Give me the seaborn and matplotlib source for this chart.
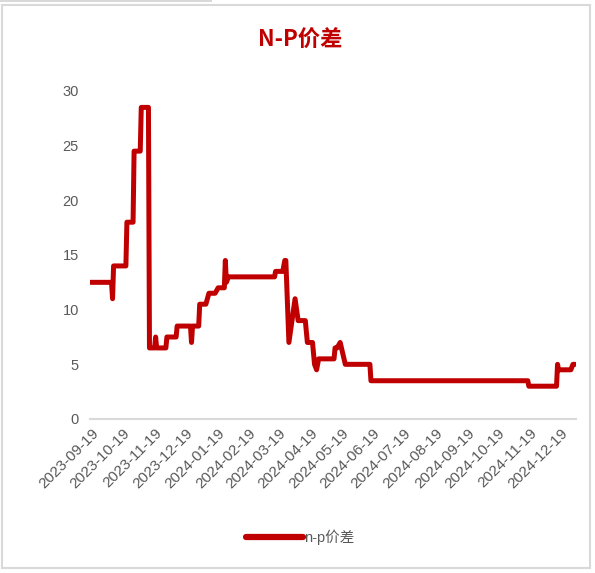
import matplotlib
matplotlib.use("Agg")
import matplotlib.pyplot as plt
import matplotlib.dates as mdates
from matplotlib.patches import Rectangle
import pandas as pd
import seaborn as sns

# breakpoints of the n-p spread (date, value)
dates = [
    "2023-09-17", "2023-10-08", "2023-10-09", "2023-10-10", "2023-10-22",
    "2023-10-23", "2023-10-29", "2023-10-30", "2023-11-05", "2023-11-06",
    "2023-11-13", "2023-11-14", "2023-11-19", "2023-11-20", "2023-11-21",
    "2023-11-30", "2023-12-01", "2023-12-10", "2023-12-11", "2023-12-24",
    "2023-12-25", "2023-12-26", "2024-01-01", "2024-01-02", "2024-01-08",
    "2024-01-11", "2024-01-17", "2024-01-20", "2024-01-26", "2024-01-27",
    "2024-01-28", "2024-01-30", "2024-03-15", "2024-03-16", "2024-03-23",
    "2024-03-25", "2024-03-26", "2024-03-29", "2024-04-04", "2024-04-07",
    "2024-04-14", "2024-04-16", "2024-04-21", "2024-04-23", "2024-04-25",
    "2024-04-27", "2024-05-12", "2024-05-13", "2024-05-15", "2024-05-18",
    "2024-05-23", "2024-06-16", "2024-06-17", "2024-11-17", "2024-11-18",
    "2024-12-15", "2024-12-16", "2024-12-17", "2024-12-29", "2024-12-31",
    "2025-01-02",
]
spread = [
    12.5, 12.5, 11, 14, 14,
    18, 18, 24.5, 24.5, 28.5,
    28.5, 6.5, 6.5, 7.5, 6.5,
    6.5, 7.5, 7.5, 8.5, 8.5,
    7, 8.5, 8.5, 10.5, 10.5,
    11.5, 11.5, 12, 12, 14.5,
    12.5, 13, 13, 13.5, 13.5,
    14.5, 14.5, 7, 11, 9,
    9, 7, 7, 5, 4.5,
    5.5, 5.5, 6.5, 6.5, 7,
    5, 5, 3.5, 3.5, 3,
    3, 5, 4.5, 4.5, 5,
    5,
]
y_ticks = [0, 5, 10, 15, 20, 25, 30]
x_start, x_end = "2023-09-17", "2025-01-03"

title = "N-P价差"
series_name = "n-p价差"

RED = "#C00000"
GRAY = "#595959"

sns.set_style("white")
plt.rcParams["font.family"] = ["Liberation Sans", "Noto Sans CJK SC", "DejaVu Sans"]

df = pd.DataFrame({"date": pd.to_datetime(dates), "value": spread})

fig = plt.figure(figsize=(5.95, 5.73), dpi=100)
ax = fig.add_axes([90 / 595, 1 - 419 / 573, 486 / 595, 328 / 573])

sns.lineplot(data=df, x="date", y="value", ax=ax, color=RED, linewidth=3.6,
             label=series_name, legend=False)

ax.set_xlim(pd.Timestamp(x_start), pd.Timestamp(x_end))
ax.set_ylim(0, 30)
ax.set_yticks(y_ticks)
ax.xaxis.set_major_locator(mdates.MonthLocator(bymonthday=19))
ax.xaxis.set_major_formatter(mdates.DateFormatter("%Y-%m-%d"))
ax.set_xlabel("")
ax.set_ylabel("")

for s in ["top", "right", "left"]:
    ax.spines[s].set_visible(False)
ax.spines["bottom"].set_color("#D9D9D9")
ax.spines["bottom"].set_linewidth(1.5)
ax.tick_params(axis="y", length=0, colors=GRAY, labelsize=10.5, pad=8)
ax.tick_params(axis="x", length=0, colors=GRAY, labelsize=11, pad=5)
plt.setp(ax.get_xticklabels(), rotation=45, ha="right", rotation_mode="anchor")

fig.text(300 / 595, 1 - 40 / 573, title, ha="center", va="center",
         fontsize=16, fontweight="bold", color=RED,
         family=["Noto Sans CJK SC", "DejaVu Sans"])

handles, labels = ax.get_legend_handles_labels()
leg = fig.legend(handles, labels, loc="center", bbox_to_anchor=(300 / 595, 1 - 537 / 573),
                 frameon=False, fontsize=10.5, handlelength=3.9, handletextpad=0.1,
                 labelcolor=GRAY)
for line in leg.get_lines():
    line.set_linewidth(4.5)
    line.set_solid_capstyle("round")

# chart frame
fig.patches.append(Rectangle((2 / 595, 1 - 568 / 573), 588 / 595, 563 / 573,
                             transform=fig.transFigure, fill=False,
                             edgecolor="#D9D9D9", linewidth=1.5))
fig.patches.append(Rectangle((0, 1 - 2 / 573), 212 / 595, 2 / 573,
                             transform=fig.transFigure, facecolor="#D9D9D9",
                             edgecolor="none"))

fig.savefig("out.png", dpi=100)
